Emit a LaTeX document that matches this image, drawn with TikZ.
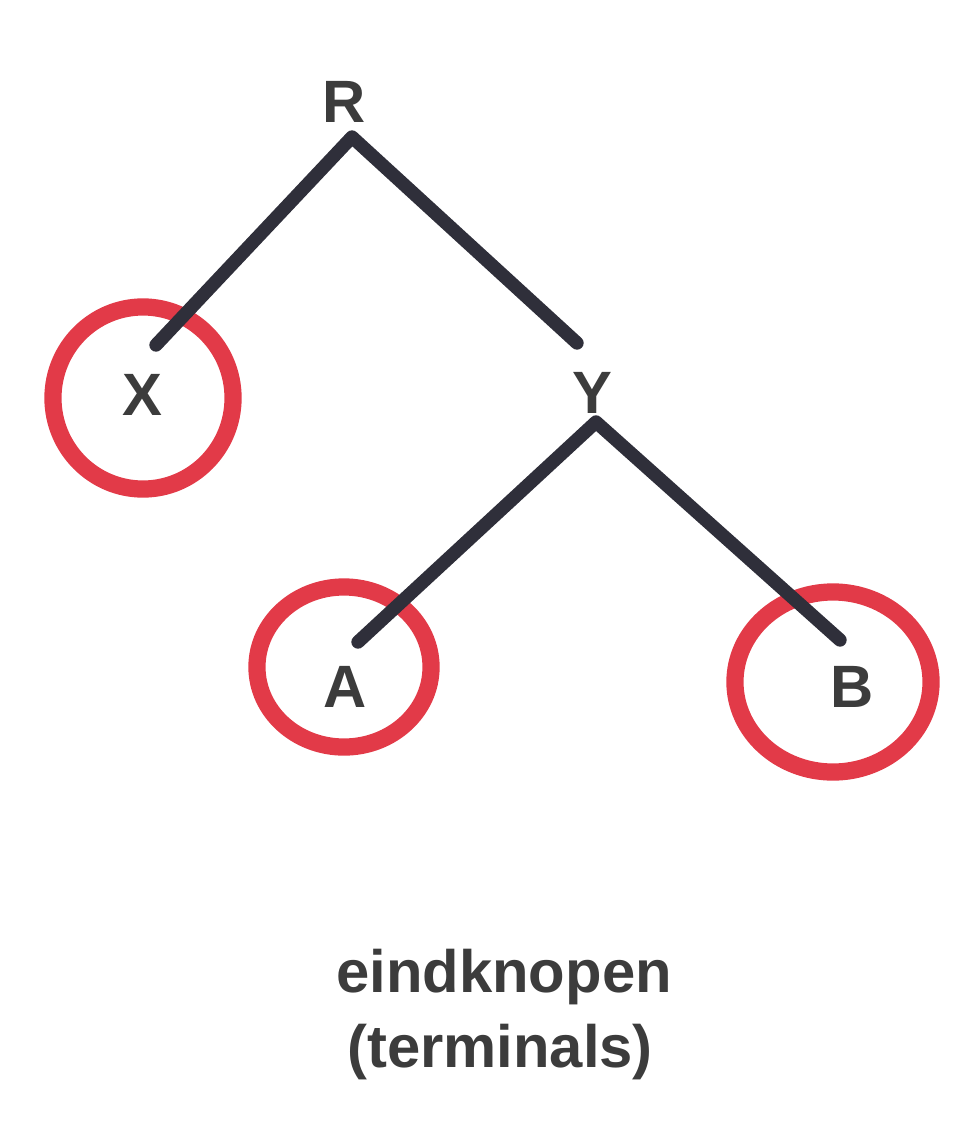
\documentclass[tikz,border=0pt]{standalone}
\usepackage{fontspec}
\setmainfont{Liberation Sans}
\definecolor{ink}{RGB}{47,47,58}
\definecolor{marker}{RGB}{226,58,72}
\definecolor{print}{RGB}{60,60,60}
\begin{document}
\begin{tikzpicture}[x=0.01cm,y=-0.01cm,
    every node/.style={text=print,font=\fontsize{17}{20}\selectfont\bfseries,
      anchor=base,inner sep=0pt},
    edge/.style={draw=ink,line width=3.8pt,line cap=round,line join=round},
    ring/.style={draw=marker,line width=4.9pt}]
  \useasboundingbox (0,0) rectangle (976,1136);
  \draw
    (344,122) node (R){R}
    (142,415) node (X){X}
    (592,413) node (Y){Y}
    (345,707) node (A){A}
    (852,707) node (B){B}
    (504,992) node (eind){eindknopen}
    (500,1067) node (term){(terminals)};
  \coordinate (Rtip) at (352,137);
  \coordinate (Xtip) at (156,345);
  \coordinate (Yend) at (577,343);
  \coordinate (Ytip) at (596,422);
  \coordinate (Atip) at (358,642);
  \coordinate (Btip) at (840,640);
  % marker rings round the terminals
  \begin{scope}[ring]
    \draw (143,398) ellipse [x radius=0.9cm, y radius=0.91cm];
    \draw (344,667) ellipse [x radius=0.87cm, y radius=0.8cm];
    \draw (833,682) ellipse [x radius=0.98cm, y radius=0.9cm];
  \end{scope}
  \begin{scope}[edge]
    \draw (Xtip) to (Rtip) to (Yend);
    \draw (Atip) to (Ytip) to (Btip);
  \end{scope}
\end{tikzpicture}
\end{document}
